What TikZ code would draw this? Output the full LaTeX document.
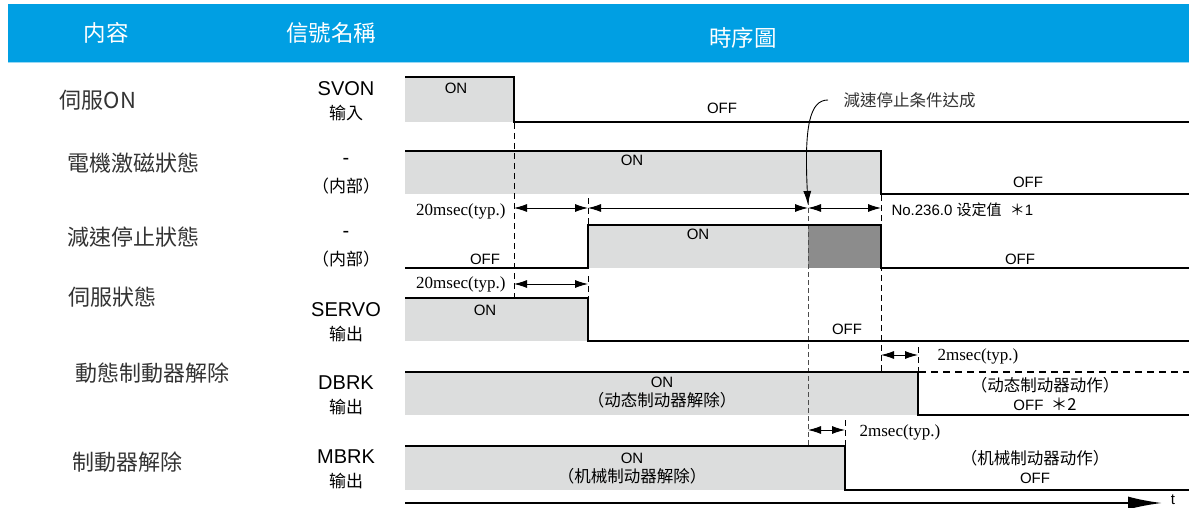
\documentclass[tikz,border=0pt]{standalone}
\usepackage{fontspec}
\setmainfont{Liberation Sans}
\newfontfamily\cjk{Noto Sans CJK TC}
\newfontfamily\serifnum{Liberation Serif}
\usetikzlibrary{arrows.meta}
\definecolor{hdr}{HTML}{009FE3}
\definecolor{lg}{HTML}{DCDDDD}
\definecolor{dg}{HTML}{8C8C8C}
\definecolor{lbl}{HTML}{333333}
\begin{document}
\begin{tikzpicture}[x=1pt,y=-1pt,
  wave/.style={line width=2pt},
  vdash/.style={line width=0.9pt, dash pattern=on 6pt off 4pt},
  vthin/.style={line width=0.5pt, dash pattern=on 5pt off 3pt, black!70},
  dim/.style={{Latex[length=13pt,width=8pt]}-{Latex[length=13pt,width=8pt]}, line width=0.9pt},
  hdrtxt/.style={text=white, font=\cjk\fontsize{22.5}{24}\selectfont},
  rowlbl/.style={text=lbl, font=\cjk\fontsize{22}{24}\selectfont},
  sig/.style={font=\fontsize{20}{22}\selectfont},
  sigsub/.style={font=\cjk\fontsize{17}{19}\selectfont},
  st/.style={font=\fontsize{15}{17}\selectfont},
  note/.style={font=\cjk\fontsize{16.5}{19}\selectfont, align=center},
  ms/.style={font=\serifnum\fontsize{17}{19}\selectfont}
]
\useasboundingbox (0,0) rectangle (1189,508);
% header
\fill[hdr] (8,4) rectangle (1189,62);
\draw[hdr!40, line width=1pt] (8,62.5) -- (1189,62.5);
\node[hdrtxt] (h1) at (106,33) {内容};
\node[hdrtxt] (h2) at (331,33) {信號名稱};
\node[hdrtxt] (h3) at (743,38) {時序圖};
% row labels
\node[rowlbl] (l1) at (98,100) {伺服ON};
\node[rowlbl] (l2) at (133,163) {電機激磁狀態};
\node[rowlbl] (l3) at (133,237) {減速停止狀態};
\node[rowlbl] (l4) at (112,297) {伺服狀態};
\node[rowlbl] (l5) at (152,373) {動態制動器解除};
\node[rowlbl] (l6) at (127,462) {制動器解除};
% signal names
\node[sig] (s1) at (346,89) {SVON};
\node[sigsub] (s1b) at (346,113) {输入};
\node[sig] (s2) at (346,161) {-};
\node[sigsub] (s2b) at (346,186) {（内部）};
\node[sig] (s3) at (346,234) {-};
\node[sigsub] (s3b) at (346,259) {（内部）};
\node[sig] (s4) at (346,310) {SERVO};
\node[sigsub] (s4b) at (346,334) {输出};
\node[sig] (s5) at (346,383) {DBRK};
\node[sigsub] (s5b) at (346,407) {输出};
\node[sig] (s6) at (346,457) {MBRK};
\node[sigsub] (s6b) at (346,481) {输出};
% fills
\fill[lg] (405,77) rectangle (514,122);
\fill[lg] (405,151) rectangle (881,194);
\fill[lg] (588,225) rectangle (808,268);
\fill[dg] (808,225) rectangle (881,268);
\fill[lg] (405,298) rectangle (588,341);
\fill[lg] (405,372) rectangle (918,415);
\fill[lg] (405,446) rectangle (845,490);
% dashed verticals
\draw[vdash] (514,123) -- (514,297);
\draw[vthin] (808,200) -- (808,446);
\draw[vdash] (881,195) -- (881,372);
\draw[vdash] (918,347) -- (918,372);
\draw[vdash] (845,420) -- (845,446);
\draw[vdash] (588,198) -- (588,224);
\draw[vdash] (588,276) -- (588,297);
% waves
\draw[wave] (405,77) -| (514,122) -- (1189,122);
\draw[wave] (405,151) -| (881,194) -- (1189,194);
\draw[wave] (405,268) -| (588,225) -| (881,268) -- (1189,268);
\draw[wave] (405,298) -| (588,341) -- (1189,341);
\draw[wave] (405,372) -| (918,415) -- (1189,415);
\draw[wave, dash pattern=on 7pt off 5pt] (919,372) -- (1189,372);
\draw[wave] (405,446) -| (845,490) -- (1189,490);
% state labels
\node[st] (on1) at (456,88) {ON};
\node[st] (off1) at (722,108) {OFF};
\node[st] (on2) at (632,160) {ON};
\node[st] (off2) at (1028,182) {OFF};
\node[st] (off3a) at (485,259) {OFF};
\node[st] (on3) at (698,234) {ON};
\node[st] (off3b) at (1020,259) {OFF};
\node[st] (on4) at (485,310) {ON};
\node[st] (off4) at (847,329) {OFF};
\node[note] (on5) at (662,393) {\fontsize{15}{17}\selectfont\rmfamily ON\\（动态制动器解除）};
\node[note] (off5) at (1045,394) {（动态制动器动作）\\{\fontsize{15}{17}\selectfont\rmfamily OFF}\ \ ＊2};
\node[note] (on6) at (632,469) {{\fontsize{15}{17}\selectfont\rmfamily ON}\\（机械制动器解除）};
\node[note] (off6) at (1035,467) {（机械制动器动作）\\{\fontsize{15}{17}\selectfont\rmfamily OFF}};
% time points
\coordinate (a1) at (514,208); \coordinate (b1) at (588,208);
\coordinate (c1) at (808,208); \coordinate (d1) at (881,208);
\coordinate (a2) at (514,284); \coordinate (b2) at (588,284);
\coordinate (a3) at (881,355); \coordinate (b3) at (918,355);
\coordinate (a4) at (808,430); \coordinate (b4) at (845,430);
\draw[dim] (a1) -- (b1);
\draw[dim] (b1) -- (c1);
\draw[dim] (c1) -- (d1);
\draw[dim] (a2) -- (b2);
\draw[dim] (a3) -- (b3);
\draw[dim] (a4) -- (b4);
\node[ms, anchor=east] (m1) at (509,211) {20msec(typ.)};
\node[ms, anchor=east] (m2) at (509,284) {20msec(typ.)};
\node[ms] (m3) at (978,356) {2msec(typ.)};
\node[ms] (m4) at (900,432) {2msec(typ.)};
\node[anchor=west, font=\fontsize{15}{17}\selectfont] (no) at (888,210) {No.236.0 {\cjk 设定值}\ \ {\cjk ＊}1};
% annotation
\node[note, text=lbl, anchor=west] (ann) at (840,100) {減速停止条件达成};
\coordinate (tip) at (808,205);
\draw[line width=0.9pt, -{Latex[length=14pt,width=8pt]}] (ann.west) ++(-12,0) .. controls (810,100) and (804,125) .. (tip);
% time axis
\coordinate (t0) at (405,503);
\coordinate (t1) at (1162,503);
\draw[line width=2pt, -{Latex[length=34pt,width=13pt]}] (t0) -- (t1);
\node[font=\fontsize{15}{17}\selectfont] (tl) at (1173,500) {t};
\end{tikzpicture}
\end{document}
